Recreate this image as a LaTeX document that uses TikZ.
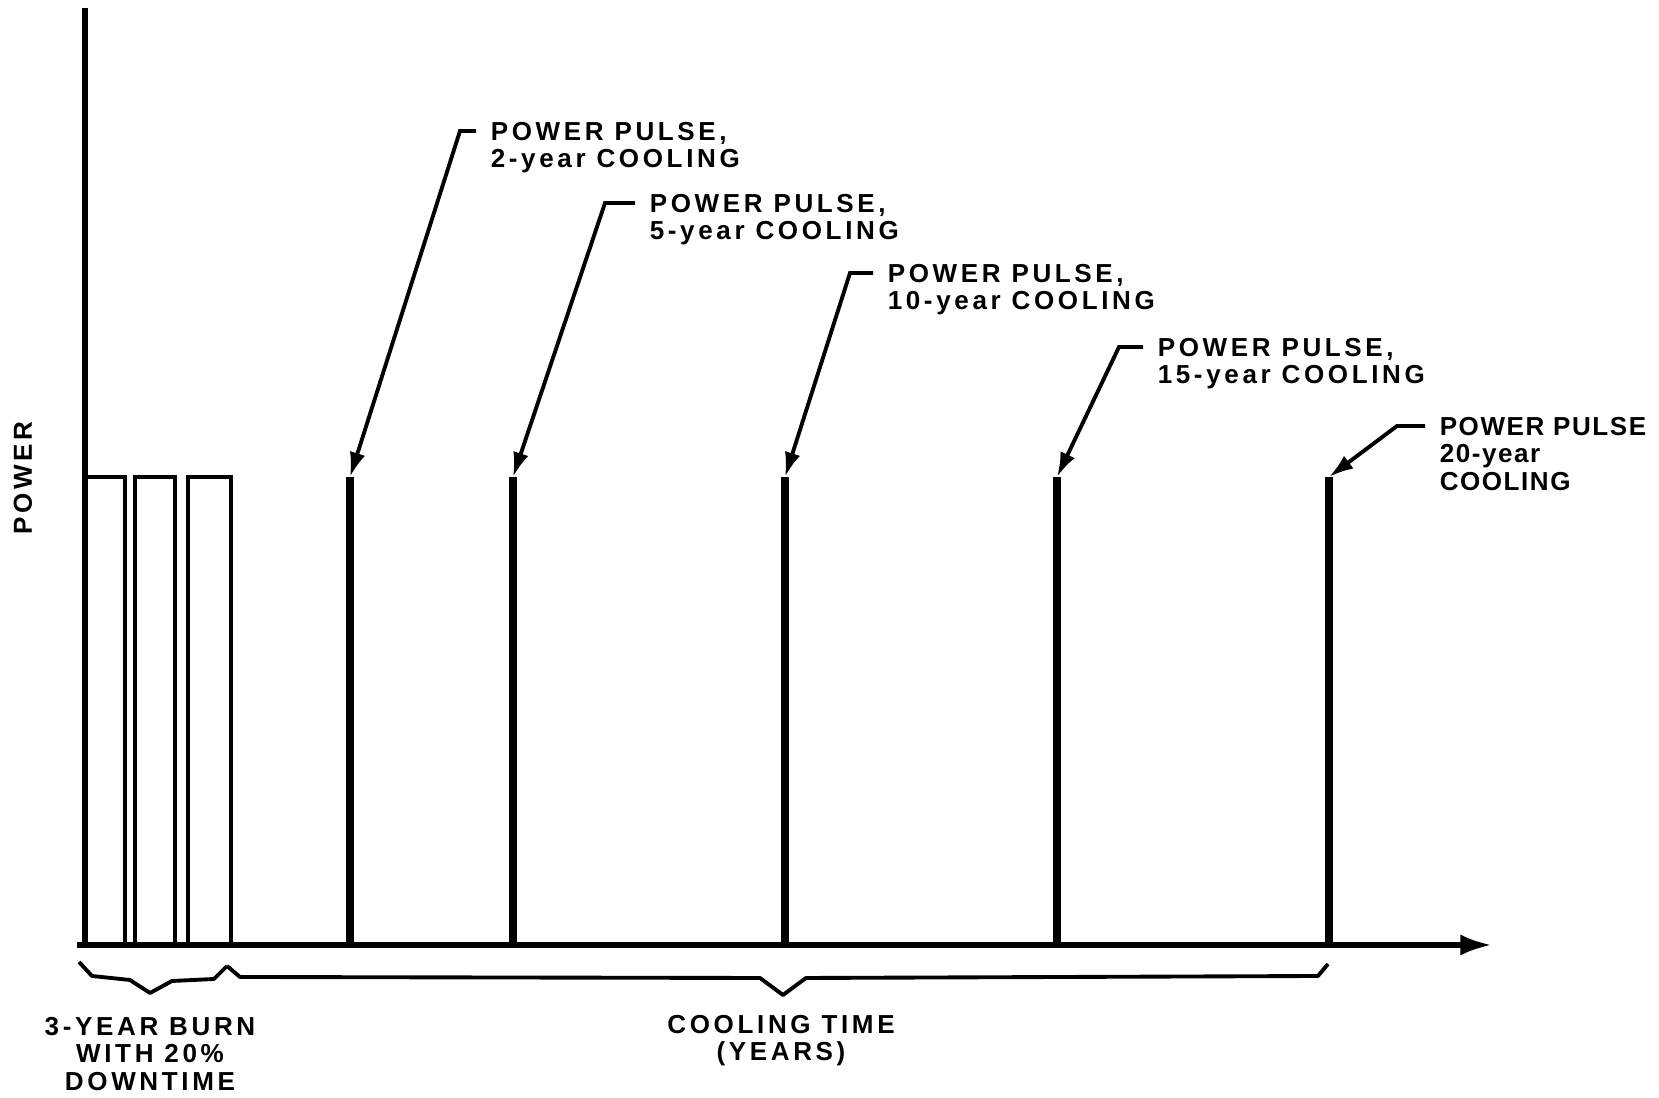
\documentclass[tikz,border=0pt]{standalone}
\usepackage{fontspec}
\newfontfamily\plotfont{Liberation Sans}[LetterSpace=14]
\newfontfamily\plotfontnarrow{Liberation Sans}[LetterSpace=6]
\usetikzlibrary{positioning}
\usetikzlibrary{arrows.meta}
\tikzset{
	semithick,
	txt/.style = {inner sep=0pt, font=\plotfont\bfseries\fontsize{7.4}{7.7}\selectfont},
	tag/.style = {txt, inner xsep=4pt, align=left, anchor=north west},
	lead/.style = {line width=1.1pt, -{Latex[length=7pt,width=4.5pt]}},
	axis/.style = {line width=1.5pt},
	pulse/.style = {line width=2.5pt},
	burn/.style = {line width=1.3pt},
	brace/.style = {line width=1.1pt, line join=round},
}

\begin{document}
\begin{tikzpicture}[x=0.01cm, y=-0.01cm]
	\useasboundingbox (0,0) rectangle (1659,1098);
	% axes
	\coordinate (ytop) at (85,8);
	\coordinate (o) at (85,945);
	\coordinate (xstart) at (77,945);
	\coordinate (xend) at (1492,945);
	\draw[axis] (ytop) -- (o);
	\draw[axis, -{Latex[length=9pt,width=6pt]}] (xstart) -- (xend);
	\node (pw) [txt, rotate=90] at (23,478) {POWER};

	% burn period
	\draw[burn] (85,477) rectangle (125,945);
	\draw[burn] (135,477) rectangle (175,945);
	\draw[burn] (188,477) rectangle (231,945);

	% pulses
	\coordinate (t2) at (350,477);
	\coordinate (t5) at (513,477);
	\coordinate (t10) at (785,477);
	\coordinate (t15) at (1057,477);
	\coordinate (t20) at (1329,477);
	\draw[pulse] (t2) -- (t2 |- o);
	\draw[pulse] (t5) -- (t5 |- o);
	\draw[pulse] (t10) -- (t10 |- o);
	\draw[pulse] (t15) -- (t15 |- o);
	\draw[pulse] (t20) -- (t20 |- o);

	% labels
	\node (l2) [tag] at (476,122) {POWER PULSE,\\2-year COOLING};
	\node (l5) [tag] at (635,194) {POWER PULSE,\\5-year COOLING};
	\node (l10) [tag] at (873,264) {POWER PULSE,\\10-year COOLING};
	\node (l15) [tag] at (1143,338) {POWER PULSE,\\15-year COOLING};
	\node (l20) [tag, font=\plotfontnarrow\bfseries\fontsize{7.4}{7.7}\selectfont] at (1425,417) {POWER PULSE\\20-year\\COOLING};
	\coordinate (b2) at (460,131);
	\coordinate (b5) at (605,203);
	\coordinate (b10) at (850,273);
	\coordinate (b15) at (1119,347);
	\coordinate (b20) at (1397,426);
	\draw[lead] (l2.west |- b2) -- (b2) -- (t2);
	\draw[lead] (l5.west |- b5) -- (b5) -- (t5);
	\draw[lead] (l10.west |- b10) -- (b10) -- (t10);
	\draw[lead] (l15.west |- b15) -- (b15) -- (t15);
	\draw[lead] (l20.west |- b20) -- (b20) -- (t20);

	% braces
	\coordinate (mid) at (227,966);
	\draw[brace] (79,962) -- (92,976) -- (130,980) -- (150,993) -- (172,981) -- (214,979) -- (mid);
	\draw[brace] (mid) -- (240,977) -- (760,978) -- (783,995) -- (806,978) -- (1318,976) -- (1328,964);
	\node (burntxt) [txt, align=center] at (150,1054) {3-YEAR BURN\\WITH 20\%\\DOWNTIME};
	\node (cooltxt) [txt, align=center] at (781,1041) {COOLING TIME\\(YEARS)};
\end{tikzpicture}
\end{document}
